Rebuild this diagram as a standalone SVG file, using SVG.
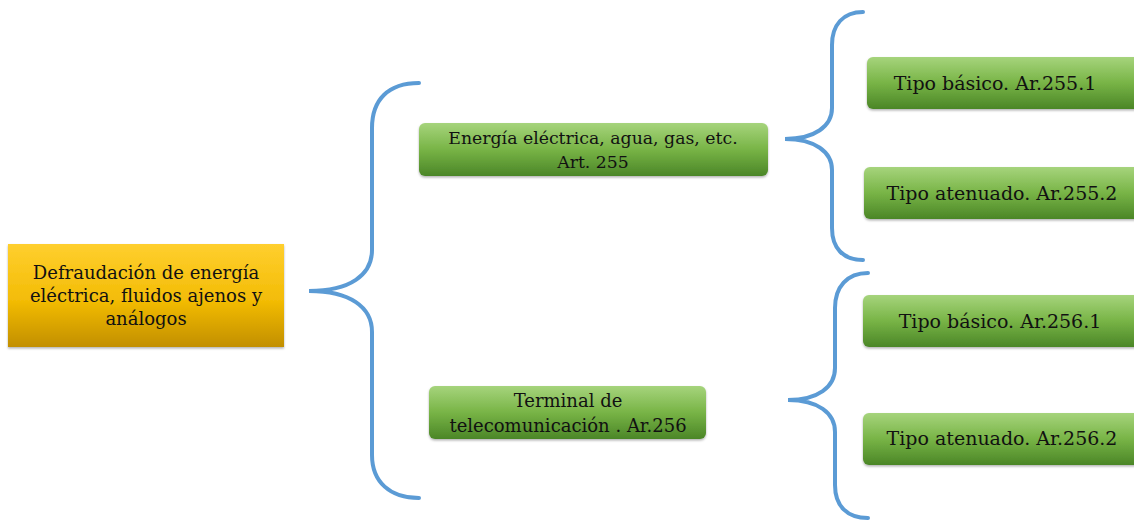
<svg xmlns="http://www.w3.org/2000/svg" width="1134" height="523" viewBox="0 0 1134 523">
<defs>
<linearGradient id="gGreen" x1="0" y1="0" x2="0" y2="1">
<stop offset="0" stop-color="#a6d47c"/>
<stop offset="0.5" stop-color="#78b446"/>
<stop offset="1" stop-color="#4b8627"/>
</linearGradient>
<linearGradient id="gOrange" x1="0" y1="0" x2="0" y2="1">
<stop offset="0" stop-color="#ffcf2e"/>
<stop offset="0.55" stop-color="#f3bc06"/>
<stop offset="1" stop-color="#c28f00"/>
</linearGradient>
<filter id="sh" x="-10%" y="-20%" width="120%" height="150%">
<feDropShadow dx="0" dy="1.5" stdDeviation="1.2" flood-color="#000" flood-opacity="0.3"/>
</filter>
</defs>
<style>
.g{fill:url(#gGreen);filter:url(#sh)}
.o{fill:url(#gOrange);filter:url(#sh)}
.t{font-family:"DejaVu Serif","Liberation Serif",serif;font-size:18px;fill:#111;text-anchor:middle}
.s{font-size:19px}
.m{font-size:17.3px}
.b{fill:none;stroke:#5b9bd5;stroke-width:4;stroke-linecap:round}
</style>
<rect width="1134" height="523" fill="#fff"/>
<g id="connectors">
<path class="b" d="M419,83 C388,83 372,100 372,128 L372,250 C372,275 350,291 309,291 C350,291 372,307 372,332 L372,455 C372,482 390,498 419,498"/>
<path class="b" d="M863,12 C843,12 832,25 832,45 L832,108 C832,126 815,139 785,139 C815,139 832,152 832,170 L832,228 C832,248 843,260 863,260"/>
<path class="b" d="M868,273 C847,273 835,287 835,308 L835,368 C835,387 818,400 788,400 C818,400 835,413 835,432 L835,485 C835,506 847,518 868,518"/>
</g>
<g id="main">
<rect class="o" x="8" y="244" width="276" height="103"/>
<text class="t" x="146" y="279">Defraudación de energía</text>
<text class="t" x="146" y="302">eléctrica, fluidos ajenos y</text>
<text class="t" x="146" y="325">análogos</text>
</g>
<g id="energia">
<rect class="g" x="419" y="123" width="349" height="53" rx="6"/>
<text class="t m" x="593" y="144">Energía eléctrica, agua, gas, etc.</text>
<text class="t m" x="593" y="168">Art. 255</text>
</g>
<g id="terminal">
<rect class="g" x="429" y="386" width="277" height="53" rx="6"/>
<text class="t" x="568" y="407">Terminal de</text>
<text class="t" x="568" y="432">telecomunicación . Ar.256</text>
</g>
<g id="basico2551">
<rect class="g" x="867" y="57" width="275" height="52" rx="6"/>
<text class="t s" x="995" y="90">Tipo básico. Ar.255.1</text>
</g>
<g id="atenuado2552">
<rect class="g" x="864" y="167" width="278" height="52" rx="6"/>
<text class="t s" x="1002" y="200">Tipo atenuado. Ar.255.2</text>
</g>
<g id="basico2561">
<rect class="g" x="863" y="295" width="279" height="52" rx="6"/>
<text class="t s" x="1000" y="328">Tipo básico. Ar.256.1</text>
</g>
<g id="atenuado2562">
<rect class="g" x="863" y="413" width="279" height="52" rx="6"/>
<text class="t s" x="1002" y="445">Tipo atenuado. Ar.256.2</text>
</g>
</svg>
